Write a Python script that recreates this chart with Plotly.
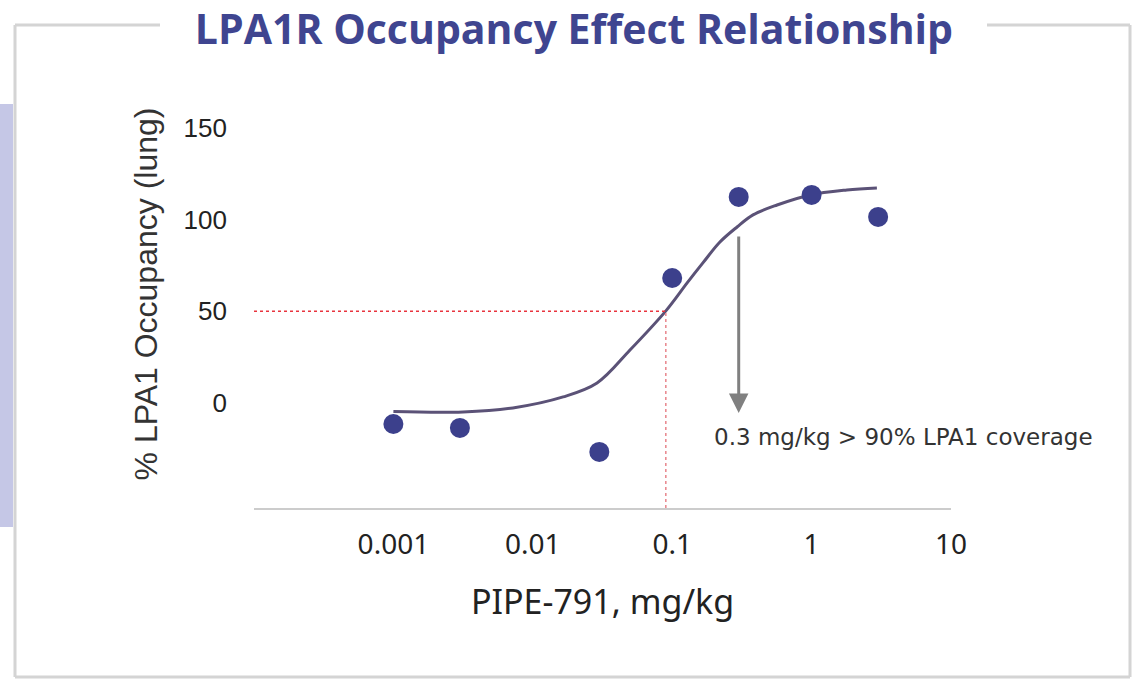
import numpy as np
import plotly.graph_objects as go

# ---------------- data ----------------
dose_points = [0.001, 0.003, 0.03, 0.1, 0.3, 1, 3]
occupancy_points = [-11.5, -13.6, -26.7, 68.2, 112.4, 113.5, 101.5]

fit_dose = [0.001, 0.00316, 0.0072, 0.0165, 0.0289, 0.0498, 0.0904, 0.128,
            0.166, 0.220, 0.292, 0.380, 0.565, 0.975, 1.79, 2.94]
fit_occupancy = [-4.7, -4.9, -2.7, 3.3, 10.9, 28.9, 50.4, 65.5,
                 76.4, 87.8, 96.0, 102.6, 108.0, 113.5, 116.2, 117.3]

ed50_dose = 0.09
ed50_value = 50
arrow_dose = 0.3
arrow_top = 91.7
arrow_tip = -5.5

x_tickvals = [0.001, 0.01, 0.1, 1, 10]
x_ticktext = ["0.001", "0.01", "0.1", "1", "10"]
y_tickvals = [0, 50, 100, 150]
y_ticktext = ["0", "50", "100", "150"]

title_text = "LPA1R Occupancy Effect Relationship"
x_title = "PIPE-791, mg/kg"
y_title = "% LPA1 Occupancy (lung)"
note_text = "0.3 mg/kg > 90% LPA1 coverage"

# ---------------- layout geometry ----------------
W, H = 1132, 679
L, R, T, B = 254, 181, 80, 171
PW, PH = W - L - R, H - T - B
Y_MIN, Y_MAX = -57.3, 176.2


def px(xp):
    return (xp - L) / PW


def py(yp):
    return (H - B - yp) / PH


fig = go.Figure()

fig.add_trace(go.Scatter(
    x=fit_dose, y=fit_occupancy, mode="lines",
    line=dict(color="#5b5277", width=3, shape="spline", smoothing=1.0),
    hoverinfo="skip", showlegend=False))

fig.add_trace(go.Scatter(
    x=dose_points, y=occupancy_points, mode="markers",
    marker=dict(color="#3c408c", size=20, line=dict(width=0)),
    showlegend=False))

# dashed ED50 guides
fig.add_shape(type="line", xref="x", yref="y",
              x0=1e-4, x1=ed50_dose, y0=ed50_value, y1=ed50_value,
              line=dict(color="#e8343e", width=1.5, dash="3px,3px"))
fig.add_shape(type="line", xref="x", yref="y",
              x0=ed50_dose, x1=ed50_dose, y0=Y_MIN, y1=ed50_value,
              line=dict(color="#e8858b", width=1.5, dash="3px,3px"))

# arrow
fig.add_annotation(x=np.log10(arrow_dose), y=arrow_tip,
                   ax=np.log10(arrow_dose), ay=arrow_top,
                   xref="x", yref="y", axref="x", ayref="y",
                   showarrow=True, arrowhead=2, arrowsize=1.3, arrowwidth=3,
                   arrowcolor="#808080", text="")
fig.add_annotation(x=np.log10(0.194), y=-18.5, xref="x", yref="y",
                   text=note_text, showarrow=False, xanchor="left",
                   font=dict(family="DejaVu Sans", size=23, color="#333333"))

# frame + lavender tab
frame_col = "#d4d4d4"
fig.add_shape(type="rect", xref="paper", yref="paper",
              x0=px(-2), x1=px(13), y0=py(527), y1=py(104),
              fillcolor="#c5c7e6", line=dict(width=0), layer="below")
for (xa, ya, xb, yb) in [(15, 25, 15, 677), (15, 677, 1130, 677),
                         (1130, 25, 1130, 677), (15, 25, 160, 25),
                         (987, 25, 1130, 25)]:
    fig.add_shape(type="line", xref="paper", yref="paper",
                  x0=px(xa), y0=py(ya), x1=px(xb), y1=py(yb),
                  line=dict(color=frame_col, width=3))

fig.update_layout(
    width=W, height=H,
    margin=dict(l=L, r=R, t=T, b=B),
    paper_bgcolor="white", plot_bgcolor="white",
    title=dict(text=title_text, x=0.507, xanchor="center",
               y=1 - 30 / H, yanchor="middle", yref="container",
               font=dict(family="Open Sans", size=41, color="#3f4590",
                         weight="bold")),
    xaxis=dict(type="log", range=[-4, 1.0], tickvals=x_tickvals,
               ticktext=x_ticktext, showgrid=False, zeroline=False,
               showline=True, linecolor="#cccccc", linewidth=2,
               ticks="", ticklabelstandoff=10,
               tickfont=dict(family="Noto Sans", size=28, color="#222222"),
               title=dict(text=x_title, standoff=30,
                          font=dict(family="Noto Sans", size=34,
                                    color="#222222"))),
    yaxis=dict(range=[Y_MIN, Y_MAX], tickvals=y_tickvals,
               ticktext=y_ticktext, showgrid=False, zeroline=False,
               showline=False, ticks="", ticklabelstandoff=26,
               tickfont=dict(family="Liberation Sans", size=26,
                             color="#222222"),
               title=dict(text=y_title, standoff=16,
                          font=dict(family="Liberation Sans", size=32,
                                    color="#333333"))),
)

fig.write_html("out.html",
               config={"displayModeBar": False},
               post_script="document.body.style.margin='0px';"
                           "document.body.style.overflow='hidden';")
